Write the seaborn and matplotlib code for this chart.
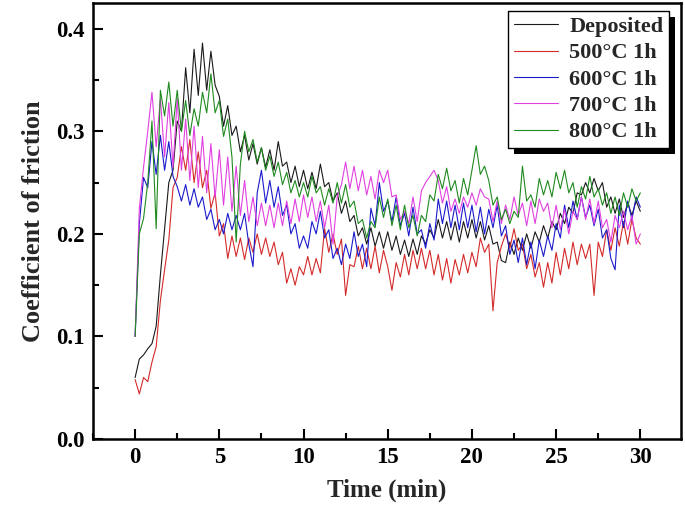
import numpy as np
import pandas as pd
import matplotlib
matplotlib.use("Agg")
import matplotlib.pyplot as plt
from matplotlib.patches import Rectangle
from matplotlib.ticker import MultipleLocator
import seaborn as sns

# sampling grid of the friction tests (min)
time = np.round(np.arange(0, 30.01, 0.25), 2)

labels = ["Deposited", "500\u00b0C 1h", "600\u00b0C 1h", "700\u00b0C 1h", "800\u00b0C 1h"]
colors = ["#1a1a1a", "#d42a2a", "#1a1acc", "#e040e0", "#1f8a1f"]

deposited = [
    0.060, 0.078, 0.082, 0.088, 0.093, 0.110, 0.160, 0.205,
    0.250, 0.262, 0.310, 0.300, 0.362, 0.318, 0.380, 0.335,
    0.386, 0.340, 0.378, 0.345, 0.334, 0.305, 0.325, 0.296,
    0.305, 0.280, 0.296, 0.272, 0.288, 0.268, 0.284, 0.265,
    0.282, 0.262, 0.290, 0.266, 0.270, 0.250, 0.266, 0.246,
    0.262, 0.244, 0.260, 0.244, 0.268, 0.246, 0.250, 0.232,
    0.240, 0.220, 0.232, 0.212, 0.218, 0.198, 0.206, 0.190,
    0.206, 0.188, 0.202, 0.186, 0.202, 0.184, 0.198, 0.180,
    0.194, 0.178, 0.195, 0.180, 0.198, 0.190, 0.204, 0.196,
    0.214, 0.196, 0.212, 0.194, 0.212, 0.192, 0.212, 0.196,
    0.214, 0.196, 0.212, 0.194, 0.208, 0.190, 0.192, 0.174,
    0.172, 0.192, 0.180, 0.196, 0.184, 0.200, 0.186, 0.202,
    0.192, 0.208, 0.196, 0.212, 0.204, 0.220, 0.210, 0.226,
    0.220, 0.240, 0.238, 0.250, 0.240, 0.254, 0.242, 0.250,
    0.226, 0.236, 0.220, 0.234, 0.216, 0.230, 0.218, 0.232,
    0.222,
]

t500 = [
    0.058, 0.044, 0.060, 0.056, 0.075, 0.090, 0.135, 0.165,
    0.194, 0.245, 0.255, 0.285, 0.262, 0.292, 0.250, 0.280,
    0.245, 0.262, 0.225, 0.240, 0.198, 0.210, 0.176, 0.198,
    0.178, 0.196, 0.175, 0.196, 0.182, 0.200, 0.180, 0.196,
    0.178, 0.192, 0.170, 0.182, 0.152, 0.166, 0.150, 0.168,
    0.160, 0.178, 0.160, 0.176, 0.162, 0.205, 0.182, 0.200,
    0.180, 0.195, 0.140, 0.170, 0.168, 0.188, 0.166, 0.186,
    0.166, 0.188, 0.162, 0.184, 0.168, 0.145, 0.172, 0.158,
    0.180, 0.160, 0.184, 0.166, 0.186, 0.166, 0.184, 0.160,
    0.180, 0.155, 0.176, 0.152, 0.175, 0.160, 0.180, 0.162,
    0.182, 0.168, 0.196, 0.182, 0.190, 0.125, 0.172, 0.188,
    0.200, 0.186, 0.205, 0.184, 0.190, 0.166, 0.180, 0.158,
    0.172, 0.148, 0.172, 0.152, 0.182, 0.160, 0.186, 0.166,
    0.192, 0.170, 0.190, 0.176, 0.190, 0.140, 0.192, 0.178,
    0.204, 0.184, 0.206, 0.188, 0.212, 0.190, 0.214, 0.196,
    0.190,
]

t600 = [
    0.100, 0.210, 0.255, 0.245, 0.290, 0.258, 0.296, 0.262,
    0.290, 0.256, 0.246, 0.232, 0.248, 0.228, 0.244, 0.226,
    0.236, 0.214, 0.224, 0.204, 0.214, 0.200, 0.220, 0.204,
    0.218, 0.204, 0.220, 0.190, 0.168, 0.240, 0.262, 0.230,
    0.252, 0.226, 0.246, 0.218, 0.228, 0.200, 0.210, 0.186,
    0.198, 0.186, 0.212, 0.200, 0.222, 0.196, 0.204, 0.176,
    0.186, 0.170, 0.190, 0.176, 0.202, 0.178, 0.190, 0.168,
    0.225, 0.208, 0.250, 0.222, 0.232, 0.212, 0.236, 0.208,
    0.220, 0.198, 0.226, 0.200, 0.204, 0.186, 0.210, 0.194,
    0.234, 0.210, 0.232, 0.206, 0.228, 0.204, 0.230, 0.206,
    0.228, 0.202, 0.226, 0.200, 0.224, 0.206, 0.228, 0.198,
    0.208, 0.180, 0.194, 0.172, 0.196, 0.170, 0.192, 0.166,
    0.194, 0.178, 0.198, 0.184, 0.210, 0.196, 0.228, 0.206,
    0.232, 0.214, 0.236, 0.216, 0.228, 0.208, 0.224, 0.196,
    0.204, 0.176, 0.165, 0.228, 0.206, 0.232, 0.214, 0.236,
    0.226,
]

t700 = [
    0.100, 0.225, 0.265, 0.300, 0.338, 0.285, 0.332, 0.275,
    0.328, 0.265, 0.332, 0.262, 0.312, 0.252, 0.305, 0.245,
    0.295, 0.240, 0.288, 0.235, 0.282, 0.228, 0.275, 0.222,
    0.266, 0.218, 0.252, 0.212, 0.236, 0.208, 0.230, 0.208,
    0.228, 0.206, 0.230, 0.208, 0.232, 0.210, 0.234, 0.212,
    0.238, 0.216, 0.236, 0.212, 0.232, 0.206, 0.228, 0.190,
    0.236, 0.248, 0.270, 0.244, 0.266, 0.242, 0.262, 0.238,
    0.256, 0.234, 0.262, 0.250, 0.262, 0.236, 0.238, 0.214,
    0.222, 0.210, 0.236, 0.212, 0.242, 0.250, 0.256, 0.262,
    0.252, 0.230, 0.246, 0.222, 0.234, 0.220, 0.236, 0.226,
    0.240, 0.228, 0.244, 0.236, 0.234, 0.212, 0.232, 0.210,
    0.228, 0.214, 0.236, 0.218, 0.230, 0.208, 0.232, 0.210,
    0.234, 0.222, 0.230, 0.206, 0.228, 0.204, 0.224, 0.200,
    0.222, 0.214, 0.236, 0.214, 0.234, 0.210, 0.232, 0.206,
    0.214, 0.192, 0.218, 0.206, 0.222, 0.204, 0.218, 0.190,
    0.200,
]

t800 = [
    0.100, 0.200, 0.215, 0.250, 0.310, 0.205, 0.340, 0.315,
    0.348, 0.305, 0.340, 0.300, 0.330, 0.296, 0.322, 0.305,
    0.338, 0.318, 0.356, 0.318, 0.330, 0.295, 0.312, 0.275,
    0.192, 0.268, 0.300, 0.280, 0.292, 0.270, 0.284, 0.262,
    0.276, 0.256, 0.270, 0.248, 0.260, 0.240, 0.252, 0.236,
    0.250, 0.236, 0.256, 0.240, 0.246, 0.228, 0.244, 0.230,
    0.250, 0.230, 0.248, 0.226, 0.232, 0.210, 0.214, 0.196,
    0.212, 0.206, 0.236, 0.216, 0.234, 0.208, 0.228, 0.204,
    0.228, 0.206, 0.218, 0.198, 0.218, 0.212, 0.238, 0.232,
    0.258, 0.244, 0.264, 0.242, 0.252, 0.230, 0.254, 0.238,
    0.262, 0.286, 0.258, 0.266, 0.252, 0.228, 0.236, 0.214,
    0.224, 0.210, 0.222, 0.216, 0.266, 0.232, 0.238, 0.226,
    0.254, 0.238, 0.252, 0.236, 0.260, 0.244, 0.262, 0.240,
    0.250, 0.226, 0.246, 0.234, 0.256, 0.236, 0.244, 0.228,
    0.240, 0.220, 0.236, 0.218, 0.240, 0.226, 0.244, 0.232,
    0.240,
]

series = [deposited, t500, t600, t700, t800]
df = pd.concat(
    [pd.DataFrame({"time": time, "cof": vals, "sample": lab}) for lab, vals in zip(labels, series)],
    ignore_index=True,
)

sns.set_theme(style="ticks")
plt.rcParams["font.family"] = ["Liberation Serif", "DejaVu Serif"]
plt.rcParams["font.weight"] = "bold"

fig = plt.figure(figsize=(6.85, 5.07), dpi=100)
ax = fig.add_axes([0.1358, 0.134, 0.858, 0.860])

sns.lineplot(data=df, x="time", y="cof", hue="sample", palette=colors,
             estimator=None, linewidth=0.8, ax=ax)

ax.set_xlim(-2.5, 32.4)
ax.set_ylim(0, 0.425)
ax.xaxis.set_major_locator(MultipleLocator(5))
ax.xaxis.set_minor_locator(MultipleLocator(2.5))
ax.yaxis.set_major_locator(MultipleLocator(0.1))
ax.yaxis.set_minor_locator(MultipleLocator(0.05))
ax.tick_params(which="both", direction="in", width=1.5, colors="black",
               top=False, right=False)
ax.tick_params(which="major", length=7, labelsize=16.5, pad=6)
ax.tick_params(which="minor", length=4)
for lab in ax.get_xticklabels() + ax.get_yticklabels():
    lab.set_fontweight("bold")
for sp in ax.spines.values():
    sp.set_linewidth(1.8)
    sp.set_color("black")
    sp.set_visible(True)

ax.set_xlabel("Time (min)", fontsize=18, fontweight="bold", labelpad=7)
ax.set_ylabel("Coefficient of friction", fontsize=19, fontweight="bold", labelpad=8)

leg = ax.legend(loc="upper right", bbox_to_anchor=(0.98, 0.982), borderaxespad=0,
                frameon=True, fancybox=False, framealpha=1, edgecolor="black",
                prop={"size": 16, "weight": "bold"}, handlelength=2.0,
                handletextpad=0.5, labelspacing=0.26, borderpad=0.25)
leg.get_frame().set_linewidth(1.0)
for h in leg.get_lines():
    h.set_linewidth(0.8)

# solid black drop shadow behind the legend box
fig.canvas.draw()
bb = leg.get_window_extent()
inv = ax.transAxes.inverted()
(x0, y0), (x1, y1) = inv.transform([[bb.x0, bb.y0], [bb.x1, bb.y1]])
dx = 6 / ax.get_window_extent().width
dy = 6 / ax.get_window_extent().height
ax.add_patch(Rectangle((x0 + dx, y0 - dy), x1 - x0, y1 - y0, transform=ax.transAxes,
                       facecolor="black", edgecolor="none",
                       zorder=leg.get_zorder() - 0.1, clip_on=False))

fig.savefig("out.png", dpi=100)
